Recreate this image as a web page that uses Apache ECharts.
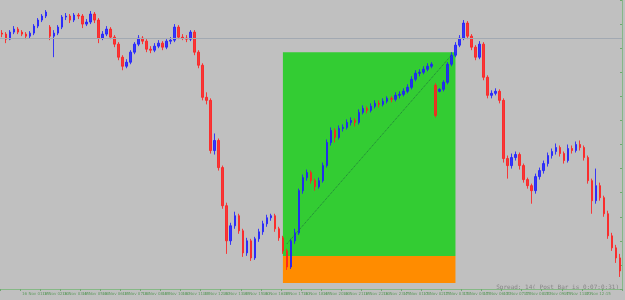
<!DOCTYPE html>
<html>
<head>
<meta charset="utf-8">
<script src="https://cdn.jsdelivr.net/npm/echarts@6/dist/echarts.min.js"></script>
<style>
  html, body { margin: 0; padding: 0; background: #c0c0c0; }
  #chart { width: 625px; height: 300px; }
</style>
</head>
<body>
<div id="chart"></div>
<script>
// bars, M15, prices in points
const opens = [255,254,249,256,259,256,254,252,255,262,268,272,261,252,255,261,271,272,268,273,
  272,264,266,274,268,250,254,259,251,244,231,222,226,236,244,250,247,239,238,242,
  245,241,247,248,261,251,250,249,256,236,223,191,188,138,148,121,83,48,63,73,
  58,36,48,31,50,57,65,71,73,60,51,38,22,48,56,98,111,116,108,102,
  108,123,146,158,151,160,161,166,168,166,176,180,178,182,185,184,187,190,189,193,
  194,197,201,209,215,216,219,222,203,197,199,206,224,233,243,250,265,252,241,231,
  244,211,193,195,197,188,130,123,131,134,123,109,103,98,112,118,125,133,137,141,
  135,128,140,138,144,141,131,108,88,103,91,75,53,41,31];
const closes = [254,249,256,259,256,254,252,255,262,268,272,276,252,255,261,271,272,268,273,272,
  264,266,274,268,250,254,259,251,244,231,222,226,236,244,250,247,239,238,242,245,
  241,247,248,261,251,250,249,256,236,223,191,188,138,148,121,83,48,63,73,58,
  36,48,31,50,57,65,71,73,60,51,38,22,48,56,98,111,116,108,102,108,
  123,146,158,151,160,161,166,168,166,176,180,178,182,185,184,187,190,189,193,194,
  197,201,209,215,216,219,222,224,173,199,206,224,233,243,250,265,252,241,231,244,
  211,193,195,197,188,130,123,131,134,123,109,103,98,112,118,125,133,137,141,135,
  128,140,138,144,141,131,108,88,103,91,75,53,41,31,18];
const lows = [251,245,248,254,254,252,249,250,253,260,266,270,248,231,253,259,268,265,266,269,
  260,262,264,265,245,248,252,249,241,228,218,220,224,234,242,244,236,235,236,240,
  238,239,244,246,249,248,246,247,233,220,188,184,135,134,118,80,35,44,60,55,
  32,33,28,29,47,54,62,68,57,48,35,19,20,45,54,95,108,105,98,100,
  106,121,143,146,149,157,159,163,162,164,174,175,176,180,181,182,185,186,187,190,
  192,195,199,207,212,214,217,220,171,196,197,204,222,231,241,248,249,238,228,229,
  208,190,190,193,185,126,110,120,128,119,106,100,85,95,109,115,122,130,134,132,
  125,126,135,136,138,128,105,75,85,88,72,50,38,26,12];
const highs = [258,256,258,262,261,258,256,257,264,270,274,278,263,258,263,273,275,274,275,275,
  274,269,277,276,270,257,262,261,253,246,233,229,238,246,253,252,249,242,245,248,
  247,249,251,264,263,254,253,258,258,238,225,196,190,155,150,123,86,66,77,75,
  60,51,50,52,60,68,74,75,75,62,53,40,50,60,100,114,119,118,110,111,
  126,149,161,160,163,164,169,171,170,179,183,182,185,188,188,190,192,192,196,197,
  200,204,212,218,219,222,225,226,205,200,208,226,236,246,253,268,267,254,243,247,
  246,213,198,200,199,190,133,135,137,136,125,111,105,115,121,128,136,140,145,143,
  137,144,143,147,148,143,133,110,120,106,93,78,56,44,35];

// position box (bar index / price)
const boxFrom = 70, boxTo = 113;
const entryPrice = 33, takeProfit = 236, stopLoss = 6;
const diagFrom = [71, 45], diagTo = [112, 233];
const levelPrice = 250;

// time labels
const categories = [];
const months = ['Jan','Feb','Mar','Apr','May','Jun','Jul','Aug','Sep','Oct','Nov','Dec'];
let t = Date.UTC(2023, 10, 16, 0, 0);
for (let i = 0; i < opens.length; i++) {
  const d = new Date(t + i * 15 * 60000);
  const hh = String(d.getUTCHours()).padStart(2, '0');
  const mm = String(d.getUTCMinutes()).padStart(2, '0');
  categories.push(i === 0 ? d.getUTCDate() + ' ' + months[d.getUTCMonth()] + ' 2023'
                          : d.getUTCDate() + ' ' + months[d.getUTCMonth()] + ' ' + hh + ':' + mm);
}

const candles = opens.map((o, i) => [o, closes[i], lows[i], highs[i]]);

const chart = echarts.init(document.getElementById('chart'));
chart.setOption({
  backgroundColor: '#c0c0c0',
  animation: false,
  textStyle: { fontFamily: 'DejaVu Sans' },
  grid: { left: 0, right: 3, top: 0, bottom: 11 },
  xAxis: {
    type: 'category',
    data: categories,
    boundaryGap: true,
    axisLine: { lineStyle: { color: '#86b886', width: 1 } },
    axisTick: { show: true, interval: 4, length: 2, lineStyle: { color: '#6fa86f' } },
    axisLabel: { interval: 4, fontSize: 4, color: '#5f9a5f', margin: 3, align: 'left' },
    splitLine: { show: false }
  },
  yAxis: {
    type: 'value',
    position: 'right',
    min: 0,
    max: 288,
    interval: 24,
    axisLine: { show: true, lineStyle: { color: '#86b886' } },
    axisTick: { show: true, inside: true, length: 2, lineStyle: { color: '#6fa86f' } },
    axisLabel: { show: false },
    splitLine: { show: false }
  },
  graphic: [{
    type: 'text', right: 6, bottom: 10,
    style: { text: 'Spread: 14( Post Bar is 0:07:0:31)', fontSize: 6, fill: '#858585', fontFamily: 'DejaVu Sans Mono' }
  }],
  series: [{
    type: 'candlestick',
    data: candles,
    barWidth: 2,
    itemStyle: {
      color: '#1f1fff', color0: '#ff2020',
      borderColor: '#1f1fff', borderColor0: '#ff2020',
      borderWidth: 1, opacity: 0.85
    },
    markArea: {
      silent: true,
      data: [
        [{ coord: [boxFrom, entryPrice], itemStyle: { color: '#33cc33', opacity: 1 } }, { coord: [boxTo, takeProfit] }],
        [{ coord: [boxFrom, stopLoss], itemStyle: { color: '#ff8c00', opacity: 1 } }, { coord: [boxTo, entryPrice] }]
      ]
    },
    markLine: {
      silent: true,
      symbol: 'none',
      label: { show: false },
      data: [
        { yAxis: levelPrice, lineStyle: { color: '#a2a9b2', type: 'solid', width: 1 } },
        [{ coord: diagFrom, lineStyle: { color: '#1f7a3a', type: 'dotted', width: 1 } }, { coord: diagTo }]
      ]
    }
  }]
});
</script>
</body>
</html>
